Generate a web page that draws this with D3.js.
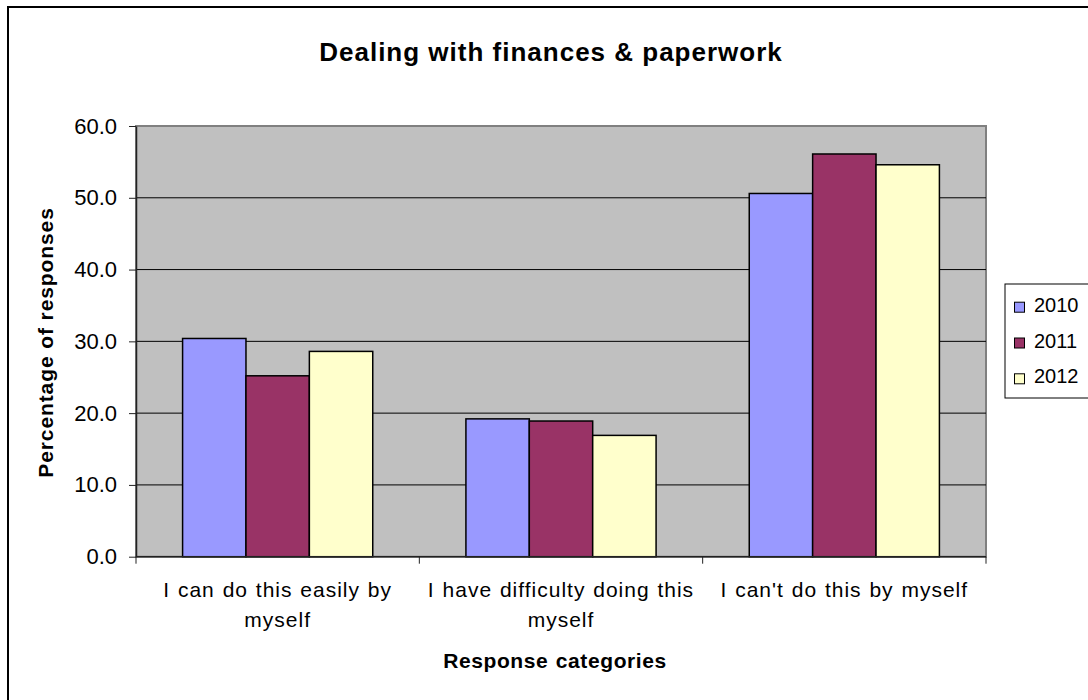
<!DOCTYPE html>
<html>
<head>
<meta charset="utf-8">
<script src="https://cdn.jsdelivr.net/npm/d3@7"></script>
<style>
  html, body { margin: 0; padding: 0; background: #fff; }
  svg { display: block; font-family: "Liberation Sans", Arial, sans-serif; }
</style>
</head>
<body>
<svg id="chart" width="1088" height="700"></svg>
<script>
// Survey responses: share of respondents per answer, by year
const categories = [
  "I can do this easily by myself",
  "I have difficulty doing this myself",
  "I can't do this by myself"
];
const years = ["2010", "2011", "2012"];
const values2010 = [30.4, 19.2, 50.6];
const values2011 = [25.2, 18.9, 56.1];
const values2012 = [28.6, 16.9, 54.6];
const yTicks = [0, 10, 20, 30, 40, 50, 60];
const seriesColors = ["#9999FF", "#993366", "#FFFFCC"];

const seriesValues = [values2010, values2011, values2012];

const svg = d3.select("#chart");
const plot = { left: 136, right: 986, top: 126, bottom: 556.7 };

// Outer chart frame
svg.append("rect")
  .attr("x", 8).attr("y", 7)
  .attr("width", 1100).attr("height", 720)
  .attr("fill", "#fff").attr("stroke", "#000").attr("stroke-width", 2);

const x0 = d3.scaleBand()
  .domain(categories)
  .range([plot.left, plot.right])
  .paddingInner(0).paddingOuter(0);

const bandW = x0.bandwidth();
const x1 = d3.scaleBand()
  .domain(years)
  .range([0, bandW])
  .paddingInner(0)
  .paddingOuter(0.735);

const y = d3.scaleLinear().domain([0, 60]).range([plot.bottom, plot.top]);

// Plot area background
svg.append("rect")
  .attr("x", plot.left).attr("y", plot.top)
  .attr("width", plot.right - plot.left).attr("height", plot.bottom - plot.top)
  .attr("fill", "#C0C0C0").attr("stroke", "#808080").attr("stroke-width", 2);

// Horizontal gridlines
svg.append("g")
  .selectAll("line")
  .data(yTicks.filter(t => t > 0 && t < 60))
  .join("line")
  .attr("x1", plot.left).attr("x2", plot.right)
  .attr("y1", d => y(d)).attr("y2", d => y(d))
  .attr("stroke", "#000").attr("stroke-width", 1);

// Bars
const groups = svg.append("g")
  .selectAll("g")
  .data(categories)
  .join("g")
  .attr("transform", d => `translate(${x0(d)},0)`);

groups.selectAll("rect")
  .data((d, i) => years.map((yr, s) => ({ yr, s, v: seriesValues[s][i] })))
  .join("rect")
  .attr("x", d => x1(d.yr))
  .attr("width", x1.bandwidth())
  .attr("y", d => y(d.v))
  .attr("height", d => y(0) - y(d.v))
  .attr("fill", d => seriesColors[d.s])
  .attr("stroke", "#000").attr("stroke-width", 1.5);

// Y axis
const yAxis = d3.axisLeft(y)
  .tickValues(yTicks)
  .tickFormat(d3.format(".1f"))
  .tickSizeInner(7).tickSizeOuter(0).tickPadding(12);

const gy = svg.append("g")
  .attr("transform", `translate(${plot.left},0)`)
  .call(yAxis);
gy.select(".domain").attr("stroke", "#222").attr("stroke-width", 1.5);
gy.selectAll(".tick line").attr("stroke", "#222");
gy.selectAll(".tick text")
  .attr("font-size", 22).attr("fill", "#000")
  .attr("font-family", "Liberation Sans, Arial, sans-serif");

// X axis with boundary ticks between categories
const gx = svg.append("g").attr("transform", `translate(0,${plot.bottom})`);
gx.append("line")
  .attr("x1", plot.left).attr("x2", plot.right)
  .attr("y1", 0).attr("y2", 0)
  .attr("stroke", "#222").attr("stroke-width", 1.5);
const boundaries = categories.map(c => x0(c)).concat([plot.right]);
gx.selectAll("line.tick")
  .data(boundaries)
  .join("line")
  .attr("class", "tick")
  .attr("x1", d => d).attr("x2", d => d)
  .attr("y1", 0).attr("y2", 7)
  .attr("stroke", "#222");

// Category labels, wrapped to fit the band
const labelSize = 21, labelLS = 1.0, labelWS = 1.0;
const measurer = svg.append("text")
  .attr("font-size", labelSize).attr("visibility", "hidden");
function measure(str) {
  measurer.text(str);
  const spaces = (str.match(/ /g) || []).length;
  return measurer.node().getComputedTextLength()
    + (str.length - 1) * labelLS + spaces * labelWS;
}

function wrapText(textSel, width) {
  textSel.each(function () {
    const text = d3.select(this);
    const words = text.text().split(/\s+/);
    const xPos = text.attr("x");
    text.text(null);
    const lines = [];
    let line = [];
    words.forEach(w => {
      const trial = line.concat([w]).join(" ");
      if (line.length && measure(trial) > width) {
        lines.push(line.join(" "));
        line = [w];
      } else {
        line.push(w);
      }
    });
    if (line.length) lines.push(line.join(" "));
    lines.forEach((ln, i) => {
      text.append("tspan").attr("x", xPos).attr("dy", i === 0 ? 0 : 30).text(ln);
    });
  });
}

svg.append("g")
  .selectAll("text")
  .data(categories)
  .join("text")
  .attr("x", d => x0(d) + bandW / 2)
  .attr("y", 597)
  .attr("text-anchor", "middle")
  .attr("font-size", labelSize)
  .attr("letter-spacing", labelLS)
  .attr("word-spacing", labelWS)
  .attr("fill", "#000")
  .text(d => d)
  .call(wrapText, 275);
measurer.remove();

// Title
svg.append("text")
  .attr("x", 551).attr("y", 61)
  .attr("text-anchor", "middle")
  .attr("font-size", 26).attr("font-weight", "bold")
  .attr("letter-spacing", 1.0)
  .text("Dealing with finances & paperwork");

// Axis titles
svg.append("text")
  .attr("transform", "translate(53,342.5) rotate(-90)")
  .attr("text-anchor", "middle")
  .attr("font-size", 21).attr("font-weight", "bold")
  .attr("letter-spacing", 0.9)
  .text("Percentage of responses");

svg.append("text")
  .attr("x", 555).attr("y", 668)
  .attr("text-anchor", "middle")
  .attr("font-size", 21).attr("font-weight", "bold")
  .attr("letter-spacing", 0.6).attr("word-spacing", 1)
  .text("Response categories");

// Legend
const legend = svg.append("g").attr("transform", "translate(1005,284)");
legend.append("rect")
  .attr("x", 0).attr("y", 0).attr("width", 120).attr("height", 114)
  .attr("fill", "#fff").attr("stroke", "#000").attr("stroke-width", 1);
const items = legend.selectAll("g.item")
  .data(years)
  .join("g")
  .attr("class", "item")
  .attr("transform", (d, i) => `translate(0,${27.7 + i * 35.8})`);
items.append("rect")
  .attr("x", 9.5).attr("y", -9.5).attr("width", 10).attr("height", 10)
  .attr("fill", (d, i) => seriesColors[i])
  .attr("stroke", "#000").attr("stroke-width", 1);
items.append("text")
  .attr("x", 29).attr("y", 0)
  .attr("font-size", 20)
  .text(d => d);
</script>
</body>
</html>
